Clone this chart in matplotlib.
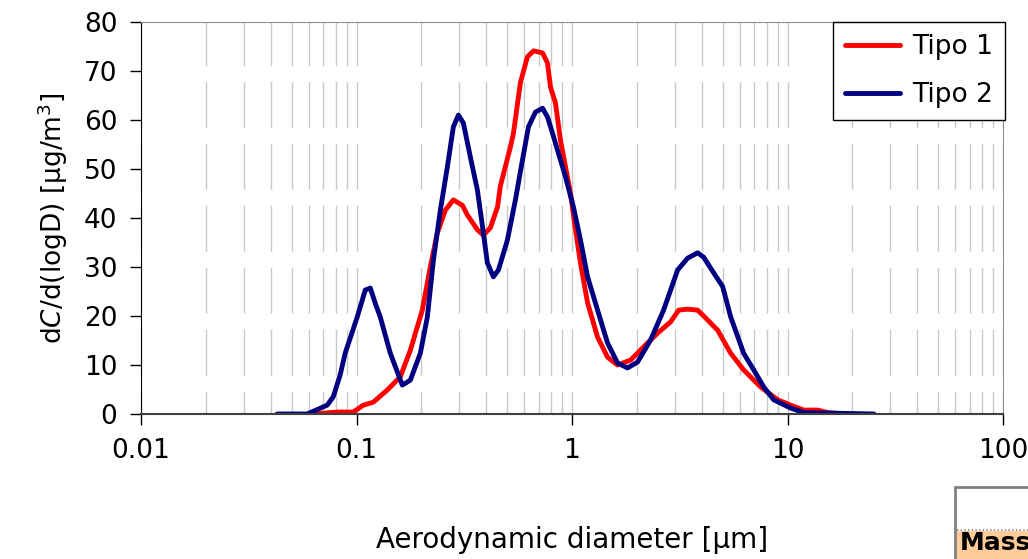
import matplotlib
matplotlib.use("Agg")
import matplotlib.pyplot as plt
from matplotlib.patches import Rectangle
from matplotlib.lines import Line2D

plt.rcParams['font.family'] = ['DejaVu Sans']
plt.rcParams['lines.scale_dashes'] = False

# aerodynamic diameter [um] and dC/dlogD [ug/m3]
d_tipo1 = [0.063, 0.0814, 0.0966, 0.1075, 0.1196, 0.139, 0.1597, 0.1777, 0.202, 0.220,
           0.237, 0.2584, 0.2815, 0.310, 0.327, 0.364, 0.388, 0.418, 0.451, 0.465,
           0.518, 0.535, 0.576, 0.621, 0.663, 0.730, 0.770, 0.795, 0.838, 0.884,
           0.984, 1.038, 1.095, 1.181, 1.314, 1.462, 1.627, 1.870, 2.149, 2.496,
           2.869, 3.125, 3.440, 3.828, 4.17, 4.74, 5.45, 6.26, 7.51, 9.01,
           10.35, 11.9, 13.8, 15.4, 17.1]
c_tipo1 = [0, 0.4, 0.4, 1.8, 2.4, 4.9, 7.6, 13, 21.2, 30,
           36.9, 41.6, 43.7, 42.6, 40.6, 37.6, 36.5, 38, 42.2, 46.5,
           54.5, 57.3, 67.6, 72.9, 74.1, 73.7, 71.6, 66.7, 63.5, 55.9,
           45.1, 37.6, 30.8, 22.7, 15.7, 11.6, 10, 11, 13.7, 16.5,
           18.8, 21.2, 21.4, 21.2, 19.6, 17.1, 12.4, 9, 5.5, 2.9,
           1.8, 0.8, 0.8, 0.3, 0.1]

d_tipo2 = [0.0428, 0.059, 0.0731, 0.078, 0.084, 0.0886, 0.1008, 0.1098, 0.1159, 0.1222,
           0.1289, 0.1435, 0.1631, 0.1777, 0.1978, 0.2132, 0.2274, 0.2450, 0.2640, 0.2815,
           0.2970, 0.3132, 0.3377, 0.364, 0.388, 0.405, 0.4318, 0.4556, 0.5015, 0.5463,
           0.5888, 0.628, 0.6765, 0.730, 0.770, 0.812, 0.856, 0.933, 1.016, 1.095,
           1.181, 1.314, 1.462, 1.627, 1.810, 2.015, 2.316, 2.661, 3.092, 3.440,
           3.828, 4.083, 4.544, 5.003, 5.45, 6.26, 6.97, 7.76, 8.63, 10.35,
           11.9, 25.2]
c_tipo2 = [0, 0, 1.8, 3.5, 8, 12.4, 19.8, 25.3, 25.7, 22.6,
           19.8, 12.4, 5.9, 6.9, 12.4, 19.8, 31.4, 41.6, 50.4, 58.6,
           61, 59.4, 52.4, 45.7, 36.9, 30.8, 28, 29.4, 35.5, 43.7,
           51.8, 58.6, 61.6, 62.4, 60.6, 57.3, 53.9, 48.4, 42.2, 35.5,
           28, 21.2, 14.5, 10.4, 9.4, 10.6, 15.1, 21.2, 29.4, 31.8,
           32.9, 32, 28.8, 26, 19.8, 12.4, 9, 5.5, 2.9, 1.2,
           0.3, 0]

x_ticks = [0.01, 0.1, 1, 10, 100]
x_ticklabels = ["0.01", "0.1", "1", "10", "100"]
y_ticks = [0, 10, 20, 30, 40, 50, 60, 70, 80]

fig = plt.figure(figsize=(10.28, 5.59), dpi=100)
ax = fig.add_axes([141 / 1028, 1 - 414 / 559, 862 / 1028, 392 / 559])

ax.plot(d_tipo1, c_tipo1, color='#ff0000', lw=3.5, label='Tipo 1',
        solid_joinstyle='round', solid_capstyle='round')
ax.plot(d_tipo2, c_tipo2, color='#000080', lw=3.5, label='Tipo 2',
        solid_joinstyle='round', solid_capstyle='round')

ax.set_xscale('log')
ax.set_xlim(0.01, 100)
ax.set_ylim(0, 80)
ax.set_xticks(x_ticks)
ax.set_xticklabels(x_ticklabels)
ax.set_yticks(y_ticks)

# dashed vertical grid at every log decade step
ax.grid(True, which='both', axis='x', color='#c8c8c8', lw=1,
        linestyle=(16.6, (33.1, 11.5)))
ax.grid(False, axis='y')

ax.tick_params(axis='both', which='major', direction='out', length=8, width=1,
               labelsize=19, pad=9)
ax.tick_params(axis='x', which='minor', length=0)
ax.spines['top'].set_color('#909090')
ax.spines['right'].set_color('#909090')
ax.spines['bottom'].set_color('#404040')
ax.spines['bottom'].set_linewidth(1.5)
ax.spines['left'].set_color('black')

ax.set_xlabel('Aerodynamic diameter [μm]', fontsize=20, labelpad=45)
ax.set_ylabel('d$\\it{C}$/d(logD) [μg/m$^3$]', fontsize=19, labelpad=10)

leg = ax.legend(loc='upper right', bbox_to_anchor=(1.002, 1.0), borderaxespad=0,
                fontsize=19, fancybox=False, framealpha=1, edgecolor='black',
                handlelength=2.1, borderpad=0.45, labelspacing=0.85, handletextpad=0.45)
leg.get_frame().set_linewidth(1)

# partially visible box in the lower right corner
fig.patches.append(Rectangle((955 / 1028, 0), 0.2, 72 / 559, transform=fig.transFigure,
                             facecolor='white', edgecolor='#808080', lw=2))
fig.patches.append(Rectangle((957 / 1028, 0), 0.2, 28 / 559, transform=fig.transFigure,
                             facecolor='#ffcc99', edgecolor='none'))
fig.lines.append(Line2D([957 / 1028, 1], [29 / 559, 29 / 559], transform=fig.transFigure,
                        color='#808080', lw=1.2, linestyle=':'))
fig.text(960 / 1028, 4 / 559, 'Mass', fontsize=18, fontweight='bold', va='bottom')

fig.savefig('out.png', dpi=100)
